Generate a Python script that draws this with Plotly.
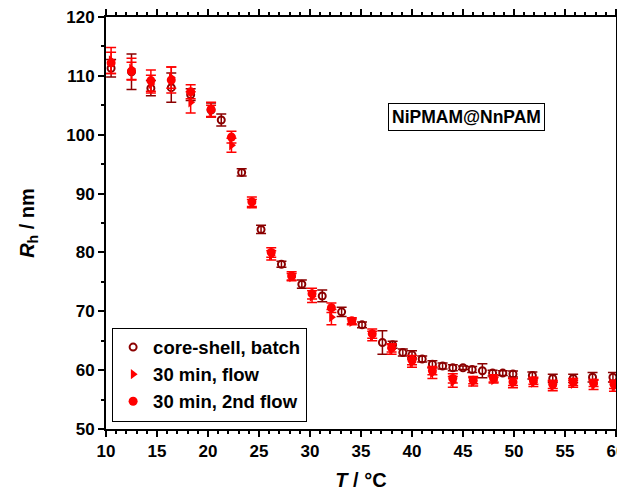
import plotly.graph_objects as go

# core-shell, batch
T_batch = [10.5, 12.5, 14.4, 16.4, 18.3, 20.3, 21.3, 23.3, 25.2, 27.2, 29.2, 31.2, 33.1, 35.1, 37.1,
           38.1, 39.1, 40.0, 41.0, 42.0, 43.0, 44.0, 45.0, 45.9, 46.9, 47.9, 48.9, 49.9,
           51.8, 53.8, 55.8, 57.7, 59.7]
R_batch = [111.3, 110.7, 107.9, 108.0, 106.8, 104.2, 102.5, 93.6, 83.9, 78.0, 74.6, 72.6, 69.9, 67.7, 64.7,
           64.3, 63.0, 62.6, 61.9, 61.0, 60.7, 60.4, 60.4, 60.1, 59.9, 59.5, 59.5, 59.35,
           59.1, 58.6, 58.6, 58.8, 58.8]
E_batch = [1.5, 3.0, 1.3, 2.5, 1.0, 1.2, 1.0, 0.6, 0.7, 0.5, 0.7, 1.0, 0.8, 0.5, 2.0,
           0.6, 0.6, 0.7, 0.5, 0.6, 0.5, 0.5, 0.3, 0.5, 1.2, 0.5, 0.4, 0.5,
           0.6, 0.7, 0.7, 0.8, 0.8]

# 30 min, flow
T_flow = [10.5, 12.5, 14.4, 16.4, 18.3, 20.3, 22.3, 24.3, 26.2, 28.2, 30.2, 32.1, 34.1, 36.1, 38.0,
          40.0, 42.0, 44.0, 46.0, 48.0, 49.9, 51.9, 53.8, 55.8, 57.8, 59.8]
R_flow = [112.6, 111.2, 108.6, 109.7, 105.5, 104.0, 98.2, 88.3, 79.5, 75.8, 72.5, 69.0, 68.2, 65.8, 63.5,
          61.3, 59.5, 58.0, 58.0, 58.3, 57.8, 57.9, 57.3, 57.7, 57.5, 57.2]
E_flow = [2.2, 1.8, 1.5, 1.8, 1.8, 1.0, 1.2, 0.7, 0.8, 0.6, 1.0, 1.3, 0.5, 0.8, 0.8,
          0.8, 0.9, 0.9, 0.7, 0.5, 0.8, 0.7, 0.8, 0.6, 0.8, 0.8]

# 30 min, 2nd flow
T_flow2 = [10.5, 12.5, 14.4, 16.4, 18.3, 20.3, 22.3, 24.3, 26.2, 28.2, 30.2, 32.1, 34.1, 36.1, 38.0,
           40.0, 42.0, 44.0, 46.0, 48.0, 49.9, 51.9, 53.8, 55.8, 57.8, 59.8]
R_flow2 = [112.2, 110.8, 109.2, 109.3, 107.3, 104.3, 99.6, 88.6, 80.0, 76.0, 73.0, 70.6, 68.4, 66.2, 63.8,
           61.7, 59.9, 58.6, 58.3, 58.6, 58.0, 58.2, 57.6, 58.0, 57.8, 57.6]
E_flow2 = [1.8, 1.5, 1.8, 2.2, 1.2, 1.2, 1.0, 0.8, 0.8, 0.7, 0.9, 0.8, 0.5, 0.8, 0.7,
           0.8, 0.7, 0.8, 0.6, 0.6, 0.6, 0.6, 0.7, 0.6, 0.6, 0.7]

DARK = "#8B0000"
RED = "#FF0000"
FONT = "Liberation Sans, Arial"

fig = go.Figure()
fig.add_trace(go.Scatter(
    x=T_batch, y=R_batch, mode="markers", name="core-shell, batch",
    marker=dict(symbol="circle-open", size=7, color=DARK, line=dict(width=2, color=DARK)),
    error_y=dict(type="data", array=E_batch, color=DARK, thickness=1.5, width=5),
))
fig.add_trace(go.Scatter(
    x=T_flow, y=R_flow, mode="markers", name="30 min, flow",
    marker=dict(symbol="triangle-right", size=9, color=RED),
    error_y=dict(type="data", array=E_flow, color=RED, thickness=1.5, width=5),
))
fig.add_trace(go.Scatter(
    x=T_flow2, y=R_flow2, mode="markers", name="30 min, 2nd flow",
    marker=dict(symbol="circle", size=9, color=RED),
    error_y=dict(type="data", array=E_flow2, color=RED, thickness=1.5, width=5),
))

axis_common = dict(
    showline=True, linecolor="black", linewidth=2, mirror="allticks",
    ticks="outside", ticklen=6, tickwidth=2, tickcolor="black",
    showgrid=False, zeroline=False, automargin=False, ticklabeloverflow="allow",
    tickfont=dict(family=FONT, size=17, color="black", weight="bold"),
)

fig.update_xaxes(
    range=[10, 60], tickmode="linear", tick0=10, dtick=5,
    minor=dict(dtick=1, ticks="outside", ticklen=3, tickwidth=2, tickcolor="black"),
    title=dict(text="<i>T</i> / °C", font=dict(family=FONT, size=20, color="black", weight="bold"),
               standoff=13),
    **axis_common,
)
fig.update_yaxes(
    range=[50, 120], tickmode="linear", tick0=50, dtick=10,
    minor=dict(dtick=5, ticks="outside", ticklen=3, tickwidth=2, tickcolor="black"),
    title=dict(text="<i>R</i><sub>h</sub> / nm", font=dict(family=FONT, size=20, color="black", weight="bold"),
               standoff=26),
    **axis_common,
)

fig.add_annotation(
    x=45.3, y=103.0, xref="x", yref="y", text="NiPMAM@NnPAM", showarrow=False,
    font=dict(family=FONT, size=17.5, color="black", weight="bold"),
    bordercolor="black", borderwidth=1, borderpad=3, bgcolor="white",
)

fig.update_layout(
    width=625, height=483,
    margin=dict(l=98, r=17, t=9, b=62),
    paper_bgcolor="white", plot_bgcolor="white",
    legend=dict(
        x=0.012, y=0.018, xanchor="left", yanchor="bottom",
        bgcolor="white", bordercolor="black", borderwidth=1,
        font=dict(family=FONT, size=18.5, color="black", weight="bold"),
        tracegroupgap=0,
    ),
)

fig.write_html("out.html")
